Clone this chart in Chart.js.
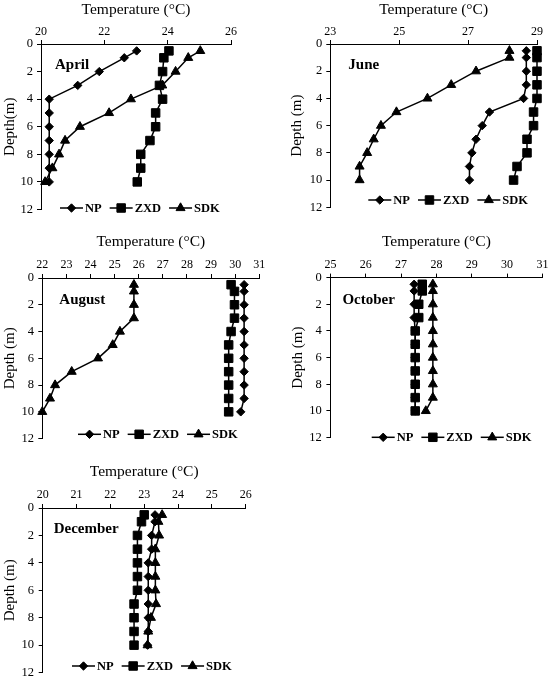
<!DOCTYPE html>
<html><head><meta charset="utf-8">
<script src="https://cdn.jsdelivr.net/npm/chart.js@4.4.1/dist/chart.umd.min.js"></script>
<style>
html,body{margin:0;padding:0;background:#fff;width:548px;height:679px;overflow:hidden;position:relative;}
canvas{position:absolute;}
</style></head><body>
<script>
// ---- data ----
const depths = [0.5, 1, 2, 3, 4, 5, 6, 7, 8, 9, 10];
const seriesNames = ['NP', 'ZXD', 'SDK'];
const depthTicks = [0, 2, 4, 6, 8, 10, 12];

const aprilTicks = [20, 22, 24, 26];
const aprilNP  = [23.02, 22.63, 21.84, 21.16, 20.26, 20.26, 20.26, 20.26, 20.26, 20.26, 20.26];
const aprilZXD = [24.04, 23.88, 23.84, 23.74, 23.84, 23.62, 23.62, 23.44, 23.15, 23.15, 23.04];
const aprilSDK = [25.03, 24.65, 24.25, 23.83, 22.84, 22.15, 21.23, 20.76, 20.57, 20.36, 20.13];

const juneTicks = [23, 25, 27, 29];
const juneNP  = [28.69, 28.69, 28.69, 28.69, 28.61, 27.62, 27.41, 27.23, 27.11, 27.04, 27.04];
const juneZXD = [29.0, 29.0, 29.0, 29.0, 29.0, 28.9, 28.9, 28.71, 28.71, 28.42, 28.32];
const juneSDK = [28.2, 28.2, 27.23, 26.51, 25.82, 24.92, 24.47, 24.26, 24.07, 23.85, 23.85];

const augustTicks = [22, 23, 24, 25, 26, 27, 28, 29, 30, 31];
const augustNP  = [30.37, 30.37, 30.37, 30.37, 30.37, 30.37, 30.37, 30.37, 30.37, 30.37, 30.23];
const augustZXD = [29.83, 29.97, 29.97, 29.97, 29.83, 29.73, 29.73, 29.73, 29.73, 29.73, 29.73];
const augustSDK = [25.8, 25.8, 25.8, 25.8, 25.22, 24.92, 24.31, 23.22, 22.53, 22.32, 22.0];

const octoberTicks = [25, 26, 27, 28, 29, 30, 31];
const octoberNP  = [27.37, 27.37, 27.37, 27.37, 27.4, 27.4, 27.4, 27.4, 27.4, 27.4, 27.4];
const octoberZXD = [27.6, 27.6, 27.5, 27.5, 27.4, 27.4, 27.4, 27.4, 27.4, 27.4, 27.4];
const octoberSDK = [27.9, 27.9, 27.9, 27.9, 27.9, 27.9, 27.9, 27.9, 27.9, 27.9, 27.7];

const decemberTicks = [20, 21, 22, 23, 24, 25, 26];
const decemberNP  = [23.32, 23.32, 23.22, 23.22, 23.12, 23.12, 23.12, 23.12, 23.12, 23.12, 23.1];
const decemberZXD = [23.0, 22.92, 22.8, 22.8, 22.8, 22.8, 22.8, 22.7, 22.7, 22.7, 22.7];
const decemberSDK = [23.53, 23.42, 23.44, 23.33, 23.33, 23.33, 23.33, 23.35, 23.2, 23.12, 23.1];

// ---- styling / layout ----
const FONT = "'Liberation Serif','Times New Roman',Times,serif";
Chart.defaults.font.family = FONT;
Chart.defaults.color = '#000';

const markerStyles = [
  {pointStyle: 'rectRot', radius: 4.2},
  {pointStyle: 'rect', radius: 6},
  {pointStyle: 'triangle', radius: 5.2}
];

const legendPlugin = {
  id: 'customLegend',
  afterDraw(chart) {
    const o = chart.options.plugins.customLegend;
    if (!o) return;
    const ctx = chart.ctx;
    ctx.save();
    let x = o.x, y = o.y;
    ctx.font = 'bold 12.5px ' + FONT;
    ctx.textBaseline = 'middle';
    ctx.textAlign = 'left';
    const dsOrder = chart.data.datasets.slice().sort((a, b) => a.legendIndex - b.legendIndex);
    dsOrder.forEach(ds => {
      ctx.strokeStyle = '#000';
      ctx.lineWidth = 1.5;
      ctx.beginPath();
      ctx.moveTo(x, y); ctx.lineTo(x + 23, y); ctx.stroke();
      ctx.fillStyle = '#000';
      ctx.lineWidth = 1;
      Chart.helpers.drawPoint(ctx, {pointStyle: ds.pointStyle, radius: ds.pointRadius, rotation: 0, borderWidth: 1}, x + 11.5, y);
      ctx.fillStyle = '#000';
      ctx.fillText(ds.label, x + 25, y + 0.5);
      x += 25 + ctx.measureText(ds.label).width + 8;
    });
    // panel label
    ctx.font = 'bold 15px ' + FONT;
    ctx.fillText(o.panel, chart.chartArea.left + o.dx, chart.chartArea.top + o.dy);
    ctx.restore();
  }
};
Chart.register(legendPlugin);

function makePanel(p) {
  const cl = p.depthX - 10, ct = p.titleY - 10;
  const rightM = 14, botM = 10;
  const W = Math.round(p.R - cl + rightM), H = Math.round(p.B - ct + botM);
  const Wy = p.L - cl, Hx = p.T - ct;
  const cv = document.createElement('canvas');
  cv.width = W; cv.height = H;
  cv.style.left = cl + 'px'; cv.style.top = ct + 'px';
  cv.style.width = W + 'px'; cv.style.height = H + 'px';
  document.body.appendChild(cv);
  const rightMargin = W - (p.R - cl), bottomMargin = H - (p.B - ct);
  const datasets = p.series.map((vals, i) => ({
    label: seriesNames[i],
    legendIndex: i,
    order: [3, 1, 2][i],
    data: vals.map((v, k) => ({x: v, y: depths[k]})),
    showLine: true,
    borderColor: '#000',
    borderWidth: 1.5,
    backgroundColor: '#000',
    pointBackgroundColor: '#000',
    pointBorderColor: '#000',
    pointBorderWidth: 1,
    pointStyle: markerStyles[i].pointStyle,
    pointRadius: markerStyles[i].radius,
    pointHoverRadius: markerStyles[i].radius,
    clip: false,
    tension: 0
  }));
  new Chart(cv, {
    type: 'scatter',
    data: {datasets},
    options: {
      responsive: false,
      animation: false,
      devicePixelRatio: 1,
      layout: {padding: {left: 0, top: 0, right: rightMargin, bottom: bottomMargin}},
      plugins: {
        legend: {display: false},
        tooltip: {enabled: false},
        customLegend: {x: p.legendX - cl, y: p.legendY - ct, panel: p.name, dx: p.labelDx, dy: p.labelDy}
      },
      scales: {
        x: {
          type: 'linear', position: 'top',
          min: p.ticks[0], max: p.ticks[p.ticks.length - 1],
          afterBuildTicks: s => { s.ticks = p.ticks.map(v => ({value: v})); },
          afterFit: s => { s.height = Hx; s.paddingLeft = 0; s.paddingRight = 0; },
          grid: {drawOnChartArea: false, drawTicks: true, tickLength: 4, color: '#000', lineWidth: 1},
          border: {display: true, color: '#000', width: 1},
          ticks: {font: {size: 12}, color: '#000', padding: p.T - p.tickY - 4 - 7.2, maxRotation: 0, autoSkip: false},
          title: {display: true, text: 'Temperature (°C)', color: '#000', font: {size: 15.5}, padding: {top: 10 - 15.5 * 0.6, bottom: 0}}
        },
        y: {
          type: 'linear', position: 'left', reverse: true,
          min: 0, max: 12,
          afterBuildTicks: s => { s.ticks = depthTicks.map(v => ({value: v})); },
          afterFit: s => { s.width = Wy; s.paddingTop = 0; s.paddingBottom = 0; },
          grid: {drawOnChartArea: false, drawTicks: true, tickLength: 4, color: '#000', lineWidth: 1},
          border: {display: true, color: '#000', width: 1},
          ticks: {font: {size: 12.5}, color: '#000', padding: p.L - p.yTickRight - 4, autoSkip: false},
          title: {display: true, text: p.depthText, color: '#000', font: {size: 15}, padding: {top: 10 - 15 * 0.6, bottom: 0}}
        }
      }
    }
  });
}

makePanel({name: 'April', L: 41, T: 44, R: 231, B: 209.5, depthX: 10, titleY: 10, tickY: 32.3, yTickRight: 33,
  ticks: aprilTicks, series: [aprilNP, aprilZXD, aprilSDK], depthText: 'Depth(m)',
  labelDx: 14, labelDy: 21, legendX: 60, legendY: 208});
makePanel({name: 'June', L: 330, T: 44, R: 536.7, B: 207.3, depthX: 296.7, titleY: 10, tickY: 32.3, yTickRight: 322,
  ticks: juneTicks, series: [juneNP, juneZXD, juneSDK], depthText: 'Depth (m)',
  labelDx: 18, labelDy: 21, legendX: 368, legendY: 200});
makePanel({name: 'August', L: 42.3, T: 277.7, R: 259.3, B: 438.3, depthX: 10, titleY: 241.7, tickY: 264.3, yTickRight: 34,
  ticks: augustTicks, series: [augustNP, augustZXD, augustSDK], depthText: 'Depth (m)',
  labelDx: 17, labelDy: 22, legendX: 78, legendY: 434});
makePanel({name: 'October', L: 330.7, T: 277.3, R: 542.7, B: 437.3, depthX: 298.3, titleY: 241.7, tickY: 264.3, yTickRight: 322,
  ticks: octoberTicks, series: [octoberNP, octoberZXD, octoberSDK], depthText: 'Depth (m)',
  labelDx: 12, labelDy: 23, legendX: 372, legendY: 437});
makePanel({name: 'December', L: 42.7, T: 507.7, R: 245.7, B: 672.3, depthX: 10, titleY: 471.7, tickY: 494.3, yTickRight: 34,
  ticks: decemberTicks, series: [decemberNP, decemberZXD, decemberSDK], depthText: 'Depth (m)',
  labelDx: 11, labelDy: 21, legendX: 72, legendY: 665.7});
</script>
</body></html>
